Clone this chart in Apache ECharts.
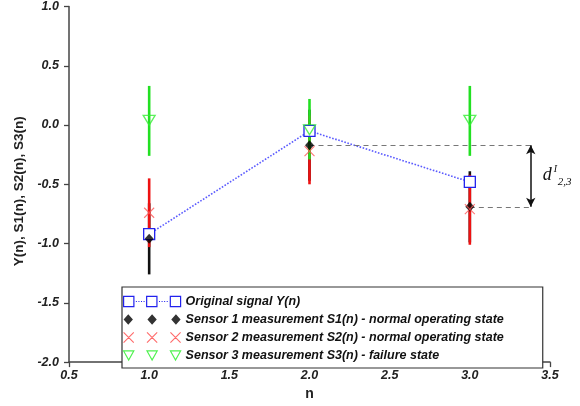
<!DOCTYPE html>
<html><head><meta charset="utf-8">
<script src="https://cdn.jsdelivr.net/npm/echarts@6/dist/echarts.min.js"></script>
<style>html,body{margin:0;padding:0;background:#fff}#c{width:580px;height:406px}</style>
</head><body><div id="c"></div>
<script>
// ---- data ----
const n = [1, 2, 3];
const Y = [-0.92, -0.05, -0.48];
const S1 = [-0.96, -0.17, -0.69];
const S1low = [-1.26, -0.47, -0.99];
const S1high = [-0.66, 0.13, -0.39];
const S2 = [-0.74, -0.22, -0.71];
const S2low = [-1.03, -0.50, -1.01];
const S2high = [-0.45, 0.08, -0.42];
const S3 = [0.04, -0.04, 0.04];
const S3low = [-0.26, -0.29, -0.26];
const S3high = [0.33, 0.22, 0.33];
const seriesNames = [
  'Original signal Y(n)',
  'Sensor 1 measurement S1(n) - normal operating state',
  'Sensor 2 measurement S2(n) - normal operating state',
  'Sensor 3 measurement S3(n) - failure state'
];
const xMin = 0.5, xMax = 3.5, xStep = 0.5;
const yMin = -2.0, yMax = 1.0, yStep = 0.5;
const distIdx = [1, 2];      // distance annotated between S1 at n=2 and n=3
const distX = 3.38;          // x position of the distance arrow

const font = 'Arial, "Liberation Sans", sans-serif';
const chart = echarts.init(document.getElementById('c'));

function errSeries(low, high, color, z) {
  return {
    type: 'custom', z: z, silent: true,
    data: n.map((x, i) => [x, low[i], high[i]]),
    encode: { x: 0, y: [1, 2] },
    renderItem: function (params, api) {
      const p1 = api.coord([api.value(0), api.value(1)]);
      const p2 = api.coord([api.value(0), api.value(2)]);
      return { type: 'line', shape: { x1: p1[0], y1: p1[1], x2: p2[0], y2: p2[1] },
        style: { stroke: color, lineWidth: 2.6 } };
    }
  };
}

const iconY = 'path://M0.6 0.6L10.6 0.6L10.6 10.6L0.6 10.6Z M23 0.6L33 0.6L33 10.6L23 10.6Z M46 0.6L56 0.6L56 10.6L46 10.6Z' +
  ' M12.5 5.6L13.5 5.6 M15 5.6L16 5.6 M17.5 5.6L18.5 5.6 M20 5.6L21 5.6' +
  ' M35 5.6L36 5.6 M37.5 5.6L38.5 5.6 M40 5.6L41 5.6 M42.5 5.6L43.5 5.6';
const iconD = 'path://M5 0.5L9.5 5.5L5 10.5L0.5 5.5Z M28 0.5L32.5 5.5L28 10.5L23.5 5.5Z M51 0.5L55.5 5.5L51 10.5L46.5 5.5Z';
const iconX = 'path://M0 0L10 10M10 0L0 10 M23 0L33 10M33 0L23 10 M46 0L56 10M56 0L46 10';
const iconT = 'path://M0 0L10 0L5 9Z M23 0L33 0L28 9Z M46 0L56 0L51 9Z';

const tickLabel = { fontFamily: font, fontWeight: 'bold', fontStyle: 'italic', fontSize: 12.5, color: '#222',
  formatter: v => v.toFixed(1) };

const option = {
  animation: false,
  backgroundColor: '#fff',
  grid: { left: 69, right: 30, top: 6, bottom: 37 },
  xAxis: {
    type: 'value', min: xMin, max: xMax, interval: xStep,
    name: 'n', nameLocation: 'middle', nameGap: 22,
    nameTextStyle: { fontFamily: font, fontWeight: 'bold', fontSize: 14, color: '#222' },
    axisLine: { onZero: false, lineStyle: { color: '#444', width: 1.5 } },
    axisTick: { show: true, length: 5, lineStyle: { color: '#444', width: 1.3 } },
    axisLabel: Object.assign({ margin: 7 }, tickLabel),
    splitLine: { show: false }
  },
  yAxis: {
    type: 'value', min: yMin, max: yMax, interval: yStep,
    name: 'Y(n), S1(n), S2(n), S3(n)', nameLocation: 'middle', nameGap: 42,
    nameTextStyle: { fontFamily: font, fontWeight: 'bold', fontSize: 13.5, color: '#222', padding: [0, 14, 0, 0] },
    axisLine: { show: true, onZero: false, lineStyle: { color: '#444', width: 1.5 } },
    axisTick: { show: true, length: 5, lineStyle: { color: '#444', width: 1.3 } },
    axisLabel: Object.assign({ margin: 10 }, tickLabel),
    splitLine: { show: false }
  },
  legend: {
    orient: 'vertical', left: 122, top: 287,
    itemWidth: 57, itemHeight: 11, itemGap: 5,
    padding: [8, 39, 6, 1],
    borderColor: '#333', borderWidth: 1.2, backgroundColor: '#fff',
    selectedMode: false,
    textStyle: { fontFamily: font, fontWeight: 'bold', fontStyle: 'italic', fontSize: 12.5, color: '#111' },
    data: [
      { name: seriesNames[0], icon: iconY, itemStyle: { color: 'rgba(0,0,0,0)', borderColor: '#2222ee', borderWidth: 1.2 } },
      { name: seriesNames[1], icon: iconD, itemStyle: { color: '#000', borderWidth: 0 } },
      { name: seriesNames[2], icon: iconX, itemStyle: { color: 'rgba(0,0,0,0)', borderColor: '#ff4444', borderWidth: 1.1 } },
      { name: seriesNames[3], icon: iconT, itemStyle: { color: 'rgba(0,0,0,0)', borderColor: '#22ee22', borderWidth: 1.2 } }
    ]
  },
  series: [
    errSeries(S1low, S1high, '#111111', 1),
    errSeries(S2low, S2high, '#ee1111', 2),
    errSeries(S3low, S3high, '#22e022', 3),
    {
      name: seriesNames[0], type: 'line', z: 4,
      data: n.map((x, i) => [x, Y[i]]),
      symbol: 'rect', symbolSize: [11, 11],
      itemStyle: { color: '#fff', borderColor: '#2222ee', borderWidth: 1.3 },
      lineStyle: { color: '#5a5aff', type: 'dotted', width: 1.6 }
    },
    {
      name: seriesNames[1], type: 'scatter', z: 5,
      data: n.map((x, i) => [x, S1[i]]),
      symbol: 'diamond', symbolSize: [9, 10],
      itemStyle: { color: '#000' },
      markLine: {
        silent: true, symbol: 'none', animation: false,
        label: { show: false },
        lineStyle: { type: [5, 4], color: '#777', width: 1.2 },
        data: [
          [{ coord: [n[distIdx[0]], S1[distIdx[0]]] }, { coord: [distX + 0.01, S1[distIdx[0]]] }],
          [{ coord: [n[distIdx[1]], S1[distIdx[1]]] }, { coord: [distX + 0.01, S1[distIdx[1]]] }]
        ]
      }
    },
    {
      name: seriesNames[2], type: 'scatter', z: 6,
      data: n.map((x, i) => [x, S2[i]]),
      symbol: 'path://M0 0L10 10M10 0L0 10', symbolSize: [10, 10],
      itemStyle: { color: 'rgba(0,0,0,0)', borderColor: '#ff5555', borderWidth: 1.1 },
      markLine: {
        silent: true, animation: false,
        label: { show: false },
        symbol: ['arrow', 'arrow'], symbolSize: [7, 9],
        lineStyle: { type: 'solid', color: '#111', width: 1.5 },
        data: [
          [{ coord: [distX, S1[distIdx[0]]] }, { coord: [distX, S1[distIdx[1]]] }]
        ]
      }
    },
    {
      name: seriesNames[3], type: 'scatter', z: 7,
      data: n.map((x, i) => [x, S3[i]]),
      symbol: 'path://M0 0L12 0L6 10Z', symbolSize: [12, 10],
      itemStyle: { color: 'rgba(0,0,0,0)', borderColor: '#33ee33', borderWidth: 1.3 }
    }
  ]
};
chart.setOption(option);

const mid = chart.convertToPixel({ gridIndex: 0 }, [distX, (S1[distIdx[0]] + S1[distIdx[1]]) / 2]);
chart.setOption({
  graphic: [
    { type: 'text', x: mid[0] + 12, y: mid[1] - 1, z: 10,
      style: { text: 'd', font: 'italic 18px "Liberation Serif", "DejaVu Serif", serif', fill: '#111', verticalAlign: 'middle' } },
    { type: 'text', x: mid[0] + 23, y: mid[1] - 7, z: 10,
      style: { text: 'I', font: 'italic 10px "Liberation Serif", "DejaVu Serif", serif', fill: '#111', verticalAlign: 'middle' } },
    { type: 'text', x: mid[0] + 27, y: mid[1] + 6, z: 10,
      style: { text: '2,3', font: 'italic 11px "Liberation Serif", "DejaVu Serif", serif', fill: '#111', verticalAlign: 'middle' } }
  ]
});
</script>
</body></html>
